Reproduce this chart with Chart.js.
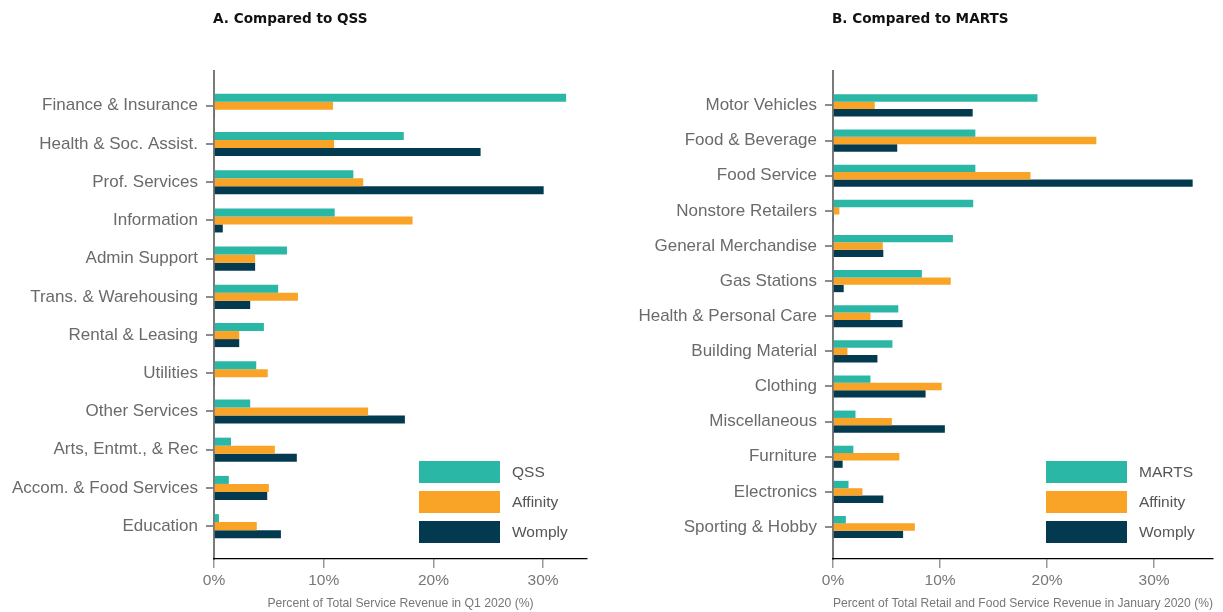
<!DOCTYPE html>
<html><head><meta charset="utf-8">
<script src="https://cdn.jsdelivr.net/npm/chart.js@4"></script>
<style>
html,body{margin:0;padding:0;background:#fff;width:1223px;height:612px;overflow:hidden}
.panel{position:absolute;top:0;height:612px}
#pa{left:0;width:612px}
#pb{left:612px;width:611px}
</style></head><body>
<div class="panel" id="pa"><canvas id="ca"></canvas></div>
<div class="panel" id="pb"><canvas id="cb"></canvas></div>
<script>
// ---- Panel A data ----
const qssCategories = ["Finance & Insurance","Health & Soc. Assist.","Prof. Services","Information","Admin Support","Trans. & Warehousing","Rental & Leasing","Utilities","Other Services","Arts, Entmt., & Rec","Accom. & Food Services","Education"];
const qssValues      = [32.1, 17.3, 12.7, 11.0, 6.65, 5.85, 4.55, 3.85, 3.3, 1.55, 1.35, 0.45];
const qssAffinity    = [10.85, 10.95, 13.6, 18.1, 3.75, 7.65, 2.3, 4.9, 14.05, 5.55, 5.0, 3.9];
const qssWomply      = [0.05, 24.3, 30.05, 0.8, 3.75, 3.3, 2.3, 0.05, 17.4, 7.55, 4.85, 6.1];

// ---- Panel B data ----
const martsCategories = ["Motor Vehicles","Food & Beverage","Food Service","Nonstore Retailers","General Merchandise","Gas Stations","Health & Personal Care","Building Material","Clothing","Miscellaneous","Furniture","Electronics","Sporting & Hobby"];
const martsValues     = [19.1, 13.3, 13.3, 13.1, 11.2, 8.3, 6.1, 5.55, 3.5, 2.1, 1.9, 1.45, 1.2];
const martsAffinity   = [3.9, 24.6, 18.45, 0.6, 4.65, 11.0, 3.5, 1.35, 10.15, 5.5, 6.2, 2.75, 7.65];
const martsWomply     = [13.05, 6.0, 33.6, 0.05, 4.7, 1.0, 6.5, 4.15, 8.65, 10.45, 0.9, 4.7, 6.55];

const xTickValues = [0, 10, 20, 30];

const COLORS = ["#2ab7a6", "#f9a427", "#033a4f"];
const LABEL_FONT = '"Liberation Sans", Arial, sans-serif';

const decorPlugin = {
  id: 'decor',
  afterDraw(chart, args, o) {
    const ctx = chart.ctx, ca = chart.chartArea;
    ctx.save();
    ctx.font = 'bold 13.6px "DejaVu Sans", sans-serif';
    ctx.fillStyle = '#111';
    ctx.textAlign = 'left';
    ctx.textBaseline = 'alphabetic';
    ctx.fillText(o.title, ca.left - 1, 23);
    chart.data.datasets.forEach((ds, i) => {
      const x = ca.right - o.legendRight;
      const y = o.legendTop + i * 30;
      ctx.fillStyle = ds.backgroundColor;
      ctx.fillRect(x, y, 81, 22);
      ctx.fillStyle = '#555';
      ctx.font = '15.5px ' + LABEL_FONT;
      ctx.textBaseline = 'middle';
      ctx.fillText(ds.label, x + 93, y + 12);
    });
    ctx.restore();
  }
};

function makeChart(id, cfg) {
  const names = cfg.names;
  const series = cfg.series;
  return new Chart(document.getElementById(id), {
    type: 'bar',
    data: {
      labels: cfg.labels,
      datasets: series.map((arr, i) => ({
        label: names[i],
        data: arr,
        backgroundColor: COLORS[i],
        borderWidth: 0,
        categoryPercentage: 0.63,
        barPercentage: 1.0
      }))
    },
    options: {
      indexAxis: 'y',
      responsive: true,
      maintainAspectRatio: false,
      animation: false,
      layout: { padding: { top: 71, right: cfg.rightPad, left: 0, bottom: 0 } },
      plugins: {
        legend: { display: false },
        tooltip: { enabled: false },
        title: { display: false },
        decor: { title: cfg.title, legendRight: cfg.legendRight, legendTop: 461 }
      },
      scales: {
        y: {
          type: 'category',
          offset: true,
          afterFit: s => { s.width = cfg.yWidth; },
          afterBuildTicks: s => { s._startValue -= cfg.padTop; s._valueRange += cfg.padTop + cfg.padBottom; },
          grid: { display: true, offset: false, drawOnChartArea: false, drawTicks: true, tickLength: 8, color: '#8c8c8c', lineWidth: 2 },
          border: { display: true, color: '#7a7a7a', width: 2 },
          ticks: { color: '#6a6a6a', font: { family: LABEL_FONT, size: 17 }, padding: 8, autoSkip: false }
        },
        x: {
          type: 'linear',
          min: 0,
          max: cfg.xMax,
          afterFit: s => { s.height = 53; },
          afterBuildTicks: s => { s.ticks = xTickValues.map(v => ({ value: v })); },
          grid: { display: true, drawOnChartArea: false, drawTicks: true, tickLength: 9, color: '#999', lineWidth: 1.5 },
          border: { display: true, color: '#000', width: 1.2 },
          ticks: { color: '#777', font: { family: LABEL_FONT, size: 15.5 }, padding: 3, callback: v => v + '%' },
          title: { display: true, text: cfg.xTitle, color: '#777', font: { family: LABEL_FONT, size: 12.2 }, padding: { top: 2, bottom: 1 } }
        }
      }
    },
    plugins: [decorPlugin]
  });
}

makeChart('ca', {
  title: 'A. Compared to QSS',
  labels: qssCategories,
  names: ['QSS', 'Affinity', 'Womply'],
  series: [qssValues, qssAffinity, qssWomply],
  xTitle: 'Percent of Total Service Revenue in Q1 2020 (%)',
  xMax: 34,
  yWidth: 214,
  rightPad: 25,
  padTop: 0.41,
  padBottom: 0.36,
  legendRight: 168
});

makeChart('cb', {
  title: 'B. Compared to MARTS',
  labels: martsCategories,
  names: ['MARTS', 'Affinity', 'Womply'],
  series: [martsValues, martsAffinity, martsWomply],
  xTitle: 'Percent of Total Retail and Food Service Revenue in January 2020 (%)',
  xMax: 35.5,
  yWidth: 221,
  rightPad: 10,
  padTop: 0.48,
  padBottom: 0.41,
  legendRight: 167
});
</script>
</body></html>
